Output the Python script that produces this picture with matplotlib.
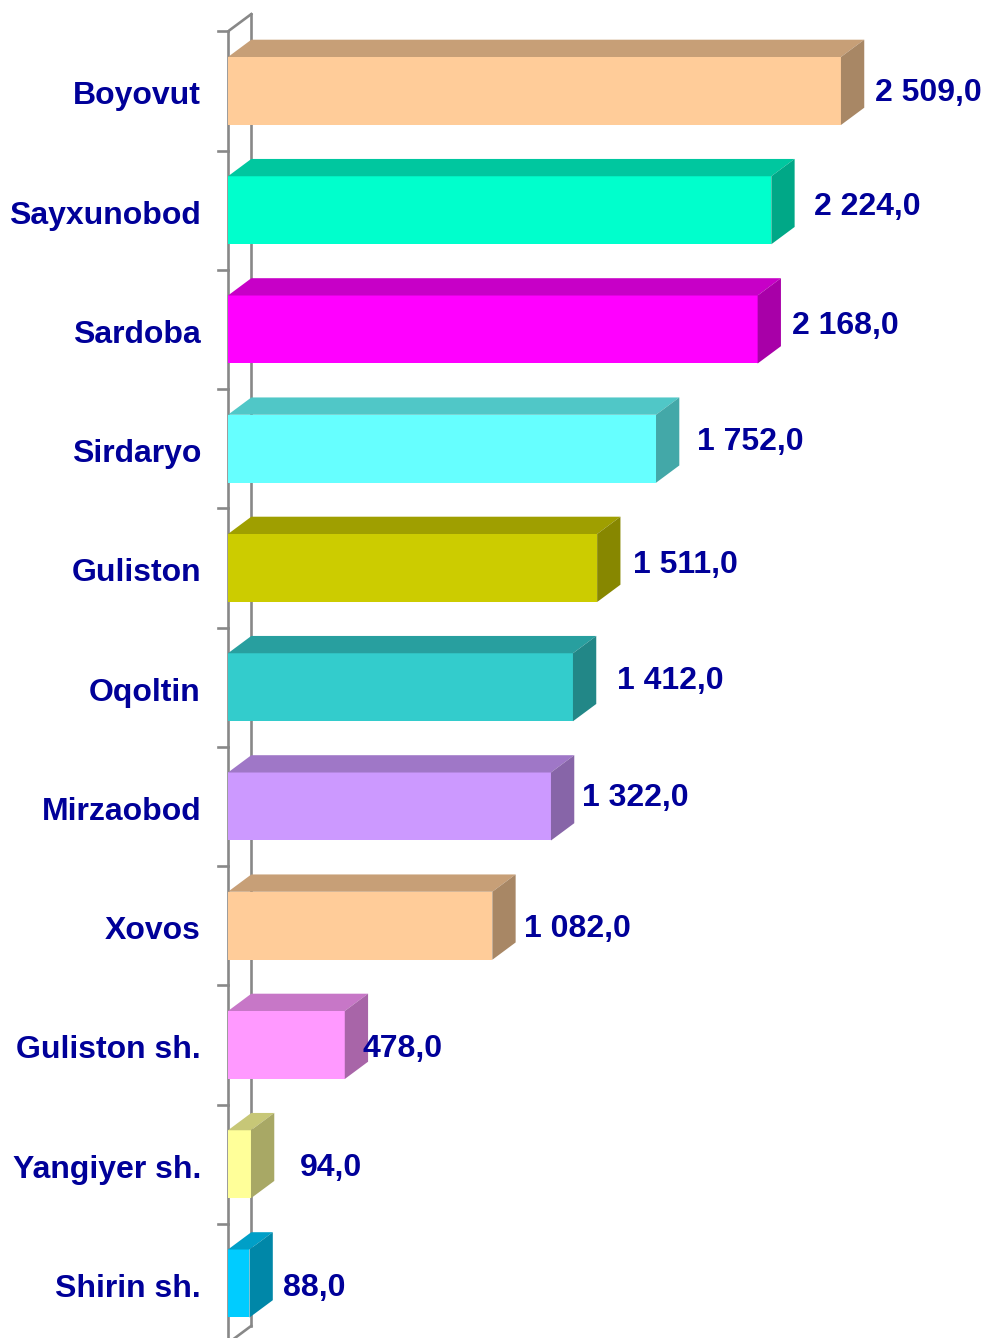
import matplotlib
matplotlib.use("Agg")
import matplotlib.pyplot as plt
from matplotlib.patches import Polygon, Rectangle
from matplotlib.colors import to_rgb

# data
districts = ["Boyovut", "Sayxunobod", "Sardoba", "Sirdaryo", "Guliston", "Oqoltin",
             "Mirzaobod", "Xovos", "Guliston sh.", "Yangiyer sh.", "Shirin sh."]
values = [2509.0, 2224.0, 2168.0, 1752.0, 1511.0, 1412.0, 1322.0, 1082.0, 478.0, 94.0, 88.0]
bar_colors = ["#FFCC99", "#00FFCC", "#FF00FF", "#66FFFF", "#CCCC00", "#33CCCC",
              "#CC99FF", "#FFCC99", "#FF99FF", "#FFFF99", "#00CCFF"]

# label placement tweaks (pixels), as in the original
label_gap_px = [11, 19, 11, 18, 13, 21, 8, 8, -6, 26, 10]
label_up_px = [1, 6, 6, 9, 6, 8.5, 11, -1, -1.5, -1.5, -1.5]

W, H, DPI = 986, 1338, 100
px_per_unit = 0.2443
band_px = 119.25
first_center_px = 91
axis_left_px = 228

depth_x = 23.3 / px_per_unit
depth_y = 17.3 / band_px
bar_h = 68 / band_px
text_col = "#000099"
wall_col = "#888888"
fsize = 23


def shade(c, f):
    r, g, b = to_rgb(c)
    return (r * f, g * f, b * f)


def fmt(v):
    s = f"{v:,.1f}"
    return s.replace(",", " ").replace(".", ",")


fig = plt.figure(figsize=(W / DPI, H / DPI), dpi=DPI)
ax = fig.add_axes([axis_left_px / W, 0, 1 - axis_left_px / W, 1])
ax.set_xlim(0, (W - axis_left_px) / px_per_unit)
ax.set_ylim((H - first_center_px) / band_px, -first_center_px / band_px)
ax.axis("off")

n = len(values)
top_y = -0.5
bot_y = n - 0.5
lw = 1.9
# back wall and axis
ax.plot([0, 0], [top_y, bot_y + 0.5], color=wall_col, lw=lw, clip_on=False, zorder=1)
ax.plot([depth_x, depth_x], [top_y - depth_y, bot_y - depth_y], color=wall_col, lw=lw, zorder=1)
ax.plot([0, depth_x], [top_y, top_y - depth_y], color=wall_col, lw=lw, zorder=1)
ax.plot([0, depth_x], [bot_y, bot_y - depth_y], color=wall_col, lw=lw, zorder=1)
tick_len = 10 / px_per_unit
for i in range(n + 1):
    ax.plot([-tick_len, 0], [top_y + i, top_y + i], color=wall_col, lw=lw,
            clip_on=False, zorder=1)

for i, (name, v, c) in enumerate(zip(districts, values, bar_colors)):
    y0 = i - bar_h / 2
    y1 = i + bar_h / 2
    ax.add_patch(Rectangle((0, y0), v, bar_h, facecolor=c, edgecolor="none", zorder=3))
    top = [(0, y0), (v, y0), (v + depth_x, y0 - depth_y), (depth_x, y0 - depth_y)]
    ax.add_patch(Polygon(top, closed=True, facecolor=shade(c, 0.78), edgecolor="none", zorder=3))
    side = [(v, y0), (v + depth_x, y0 - depth_y), (v + depth_x, y1 - depth_y), (v, y1)]
    ax.add_patch(Polygon(side, closed=True, facecolor=shade(c, 0.66), edgecolor="none", zorder=3))

    # category label
    ax.annotate(name, xy=(0, i), xytext=(-27 * 72 / DPI, -13.5 * 72 / DPI),
                textcoords="offset points", ha="right", va="baseline",
                fontsize=fsize, fontweight="bold", color=text_col,
                fontfamily="Liberation Sans", annotation_clip=False)
    # value label
    ax.annotate(fmt(v), xy=(v + depth_x, i),
                xytext=(label_gap_px[i] * 72 / DPI, (label_up_px[i] - 10.7) * 72 / DPI),
                textcoords="offset points", ha="left", va="baseline",
                fontsize=fsize, fontweight="bold", color=text_col,
                fontfamily="Liberation Sans", annotation_clip=False, zorder=4)

fig.savefig("out.png", dpi=DPI)
